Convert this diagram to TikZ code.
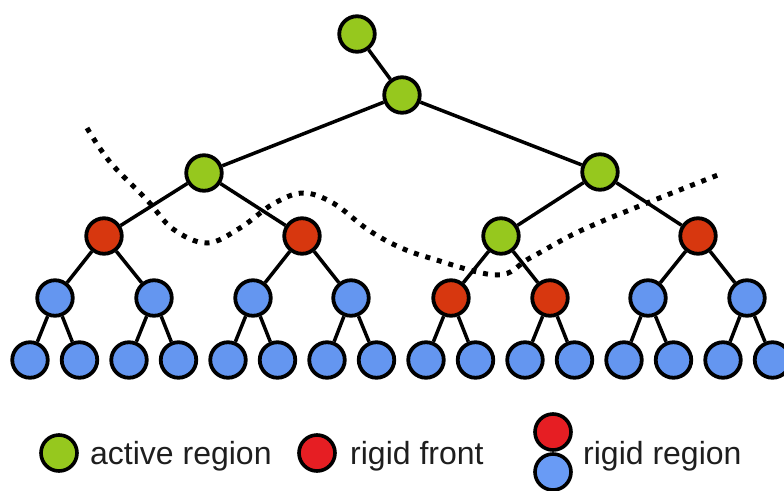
\documentclass[tikz,border=0pt]{standalone}
\usepackage{fontspec}
\setmainfont{Liberation Sans}
\definecolor{grn}{RGB}{150,200,30}
\definecolor{rd}{RGB}{215,55,15}
\definecolor{bl}{RGB}{100,150,240}
\definecolor{lrd}{RGB}{230,30,35}
\definecolor{lbl}{RGB}{105,155,245}
\definecolor{txt}{RGB}{30,30,30}
\begin{document}
\begin{tikzpicture}[x=1pt,y=-1pt,
  tn/.style={circle, draw=black, line width=3.8pt, minimum size=35.5pt, inner sep=0pt},
  gnode/.style={tn, fill=grn},
  rnode/.style={tn, fill=rd},
  bnode/.style={tn, fill=bl},
  lnode/.style={circle, draw=black, line width=3.6pt, minimum size=36pt, inner sep=0pt},
  edge/.style={line width=3.5pt},
  front/.style={line width=5pt, dash pattern=on 5pt off 7pt},
  lbl/.style={anchor=base west, inner sep=0pt, text=txt, font=\fontsize{32}{36}\selectfont}]
\useasboundingbox (0,0) rectangle (784,490);
% leaves
\foreach \i in {0,...,15} \node[bnode] (l\i) at ({30+49.5*\i},360) {};
% level 4
\node[bnode] (d0) at (55,298) {};
\node[bnode] (d1) at (154,298) {};
\node[bnode] (d2) at (253,298) {};
\node[bnode] (d3) at (351,298) {};
\node[rnode] (d4) at (451,298) {};
\node[rnode] (d5) at (550,298) {};
\node[bnode] (d6) at (648,298) {};
\node[bnode] (d7) at (747,298) {};
% level 3
\node[rnode] (c0) at (104,236) {};
\node[rnode] (c1) at (302,236) {};
\node[gnode] (c2) at (501,236) {};
\node[rnode] (c3) at (698,236) {};
% level 2
\node[gnode] (b0) at (204,173) {};
\node[gnode] (b1) at (600,172) {};
% level 1 and root
\node[gnode] (a0) at (402,95) {};
\node[gnode] (r) at (357,34) {};
% edges
\draw[edge] (r) -- (a0);
\draw[edge] (a0) -- (b0);
\draw[edge] (a0) -- (b1);
\draw[edge] (b0) -- (c0);
\draw[edge] (b0) -- (c1);
\draw[edge] (b1) -- (c2);
\draw[edge] (b1) -- (c3);
\draw[edge] (c0) -- (d0); \draw[edge] (c0) -- (d1);
\draw[edge] (c1) -- (d2); \draw[edge] (c1) -- (d3);
\draw[edge] (c2) -- (d4); \draw[edge] (c2) -- (d5);
\draw[edge] (c3) -- (d6); \draw[edge] (c3) -- (d7);
\foreach \j [evaluate=\j as \a using int(2*\j), evaluate=\j as \b using int(2*\j+1)] in {0,...,7} {
  \draw[edge] (d\j) -- (l\a);
  \draw[edge] (d\j) -- (l\b);
}
% rigid front boundary
\draw[front] plot[smooth, tension=0.6] coordinates {
  (87,128) (110,162) (147,200) (173,229) (207,243) (240,228) (273,204) (303,193)
  (333,203) (367,229) (397,246) (430,258) (497,275) (530,258) (580,231) (647,203) (723,173)};
% legend
\node[lnode, fill=grn] (lg) at (59,453) {};
\node[lbl] (lgt) at (90,464) {active region};
\node[lnode, fill=lrd] (lf) at (317,453) {};
\node[lbl] (lft) at (350,464) {rigid front};
\node[lnode, fill=lrd] (lr1) at (553,432) {};
\node[lnode, fill=lbl] (lr2) at (553,472) {};
\node[lbl] (lrt) at (583,464) {rigid region};
\end{tikzpicture}
\end{document}
